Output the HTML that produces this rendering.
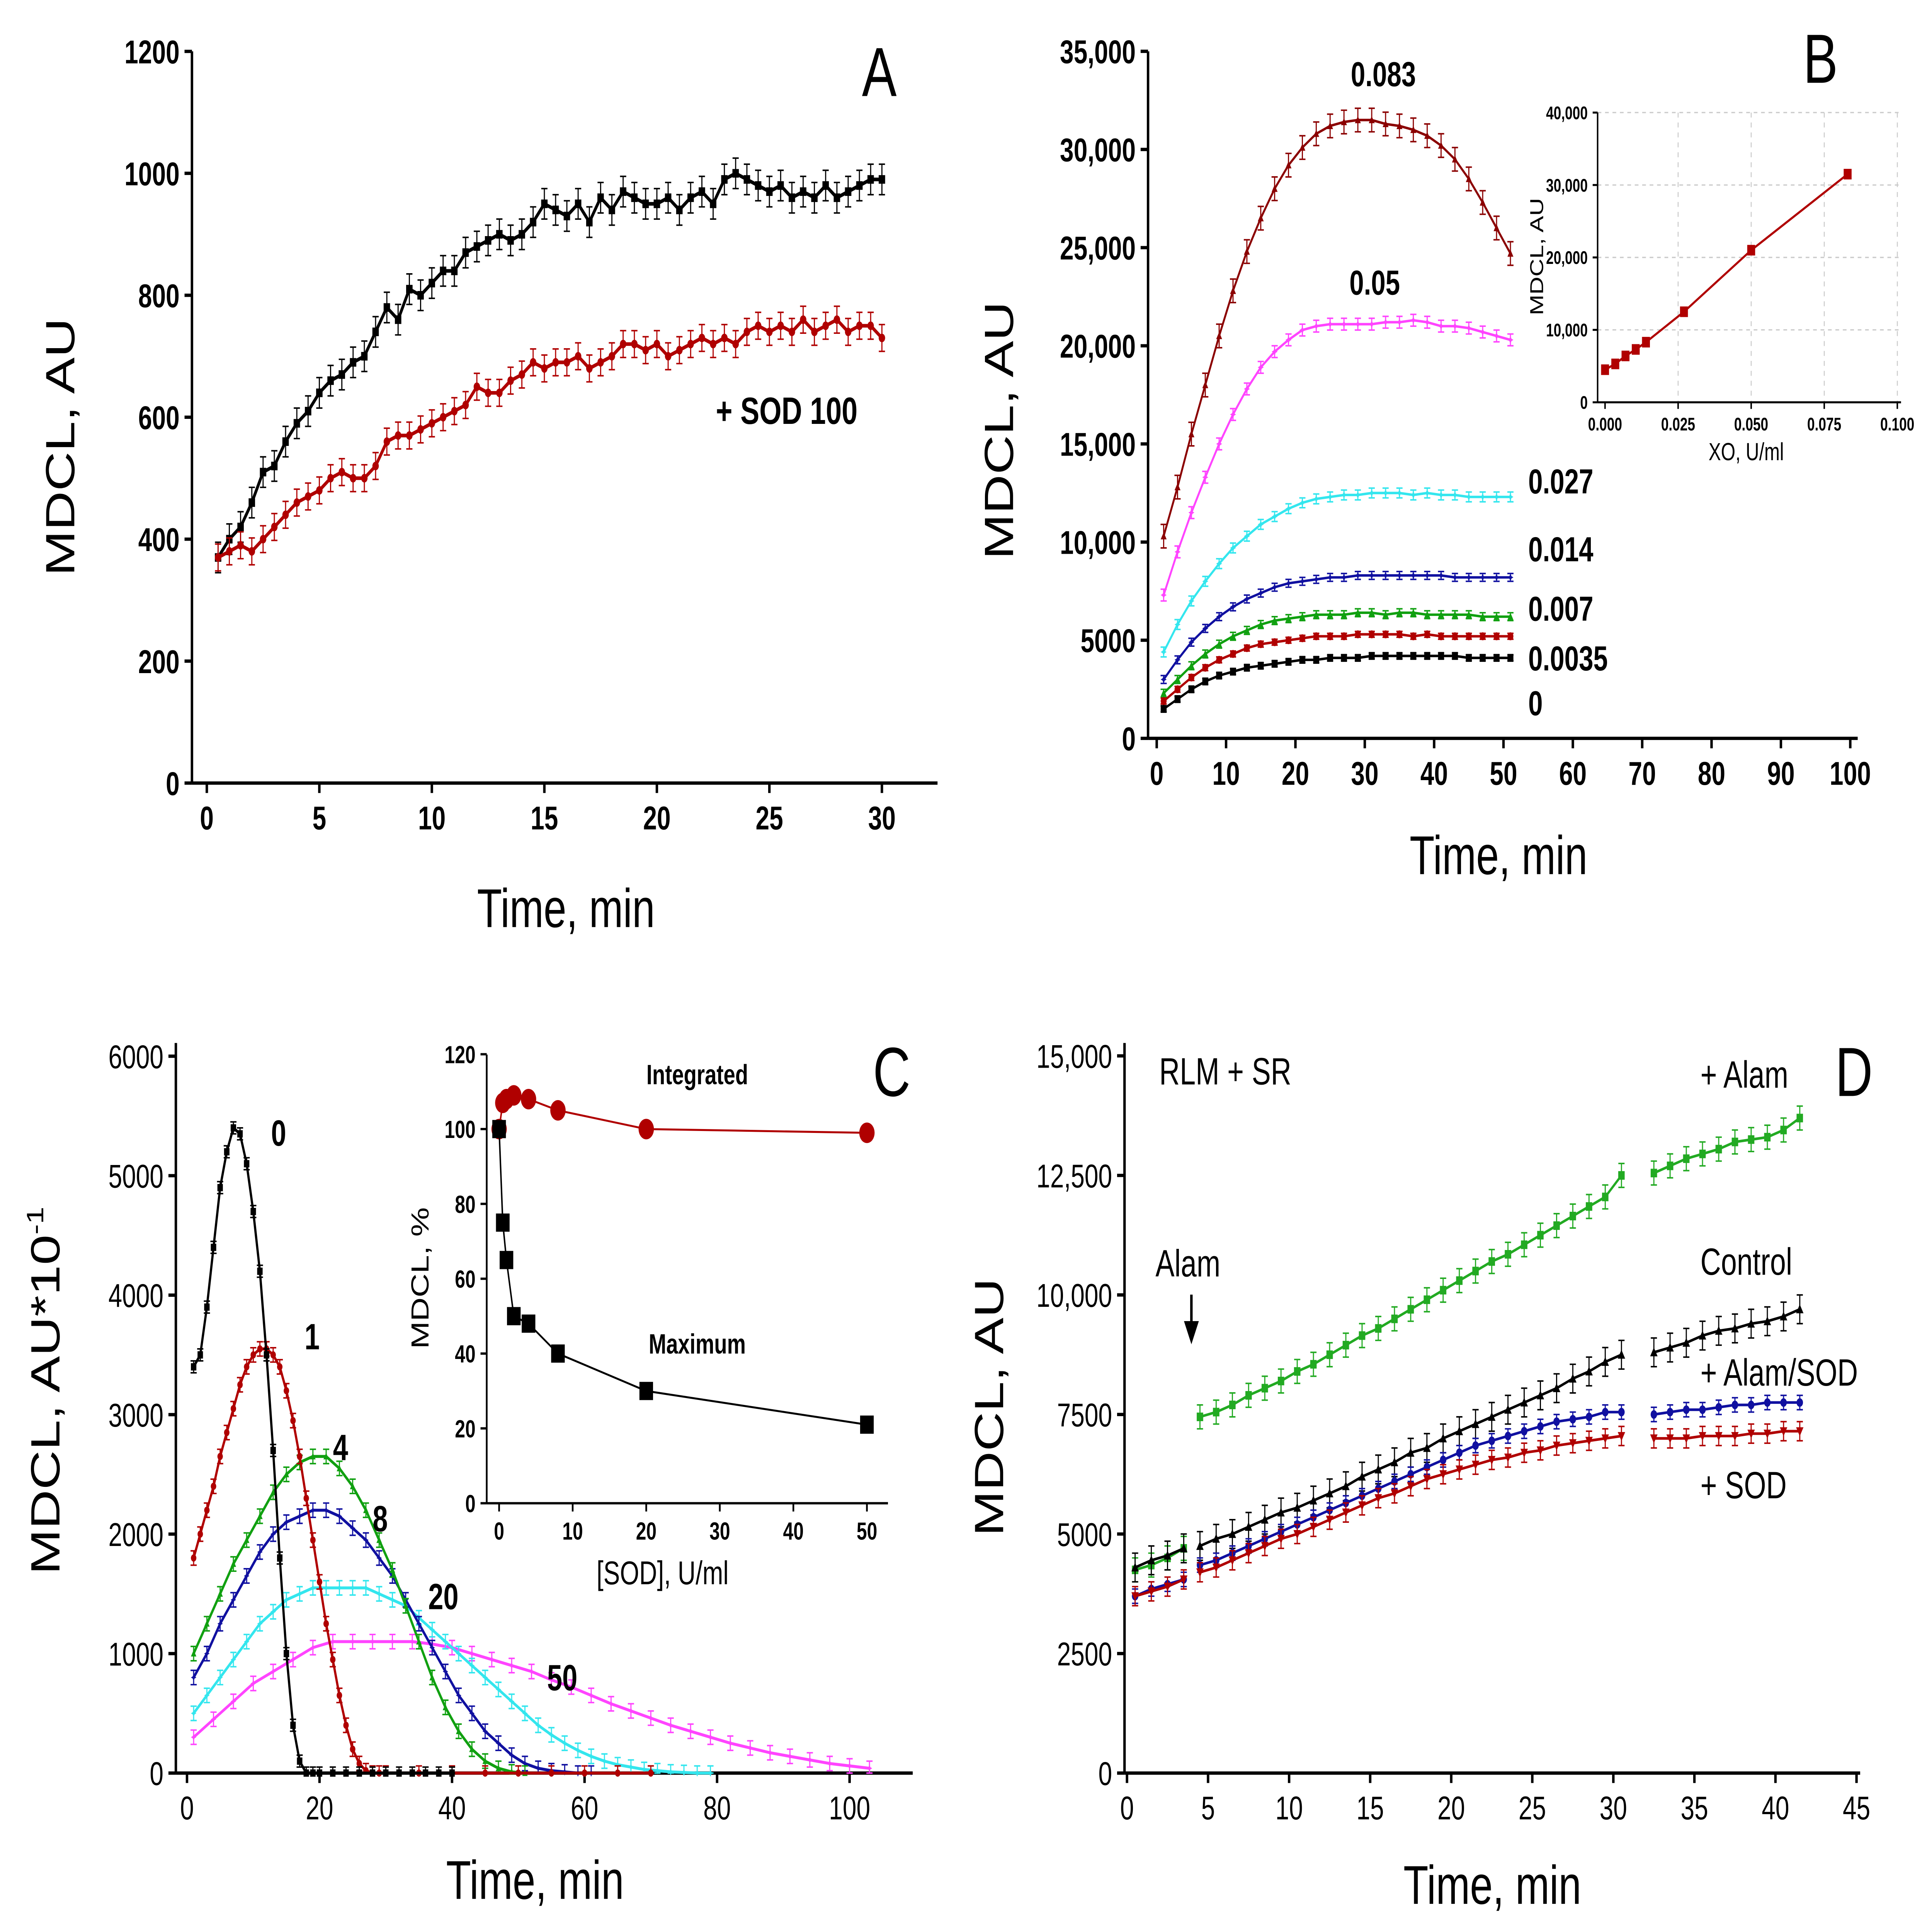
<!DOCTYPE html>
<html><head><meta charset="utf-8"><title>MDCL kinetics</title>
<style>
html,body{margin:0;padding:0;background:#fff;overflow:hidden;width:100vw;height:100vh;}
svg{display:block;width:100vw;height:100vh;}
text{font-family:"Liberation Sans",Arial,sans-serif;}
</style></head>
<body>
<svg id="fig" xmlns="http://www.w3.org/2000/svg" viewBox="0 0 1560 1167" preserveAspectRatio="none">
<rect x="0" y="0" width="1560" height="1167" fill="#fff"/>
</svg>
<script>
// ---------- Panel A data ----------
const tA = [0.5,1,1.5,2,2.5,3,3.5,4,4.5,5,5.5,6,6.5,7,7.5,8,8.5,9,9.5,10,10.5,11,11.5,12,12.5,13,13.5,14,14.5,15,15.5,16,16.5,17,17.5,18,18.5,19,19.5,20,20.5,21,21.5,22,22.5,23,23.5,24,24.5,25,25.5,26,26.5,27,27.5,28,28.5,29,29.5,30];
const aControl = [370,400,420,460,510,520,560,590,610,640,660,670,690,700,740,780,760,810,800,820,840,840,870,880,890,900,890,900,920,950,940,930,950,920,960,940,970,960,950,950,960,940,960,970,950,990,1000,990,980,970,980,960,970,960,980,960,970,980,990,990];
const aSOD = [370,380,390,380,400,420,440,460,470,480,500,510,500,500,520,560,570,570,580,590,600,610,620,650,640,640,660,670,690,680,690,690,700,680,690,700,720,720,710,720,700,710,720,730,720,730,720,740,750,740,750,740,760,740,750,760,740,750,750,730];
const errA = [25,22];
const ticksAx = [0,5,10,15,20,25,30];
const ticksAy = [0,200,400,600,800,1000,1200];

// ---------- Panel B data ----------
const tB = [1,3,5,7,9,11,13,15,17,19,21,23,25,27,29,31,33,35,37,39,41,43,45,47,49,51];
const b083 = [10300,12800,15500,18000,20500,22800,24800,26500,28000,29200,30100,30800,31200,31400,31500,31500,31300,31200,31000,30700,30200,29500,28500,27300,26000,24700];
const b05 = [7300,9500,11500,13300,15000,16500,17800,18900,19700,20300,20800,21000,21100,21100,21100,21100,21200,21200,21300,21200,21000,21000,20900,20700,20500,20300];
const b027 = [4400,5800,7000,8000,8900,9700,10300,10900,11300,11700,12000,12200,12300,12400,12400,12500,12500,12500,12400,12500,12400,12400,12300,12300,12300,12300];
const b014 = [3000,4000,4900,5600,6200,6700,7100,7400,7700,7900,8000,8100,8200,8200,8300,8300,8300,8300,8300,8300,8300,8200,8200,8200,8200,8200];
const b007 = [2300,3000,3700,4300,4800,5200,5500,5800,6000,6100,6200,6300,6300,6300,6400,6400,6300,6400,6400,6300,6300,6300,6300,6200,6200,6200];
const b0035 = [1900,2500,3100,3600,4000,4300,4600,4800,4900,5000,5100,5200,5200,5200,5300,5300,5300,5300,5200,5300,5200,5200,5200,5200,5200,5200];
const b0 = [1500,2000,2500,2900,3200,3400,3600,3700,3800,3900,4000,4000,4100,4100,4100,4200,4200,4200,4200,4200,4200,4200,4100,4100,4100,4100];
const errB = [600,300,250,200,200,150,150];
const ticksBx = [0,10,20,30,40,50,60,70,80,90,100];
const ticksBy = [0,5000,10000,15000,20000,25000,30000,35000];
const ticksByLbl = ["0","5000","10,000","15,000","20,000","25,000","30,000","35,000"];
const xoDose = [0,0.0035,0.007,0.0105,0.014,0.027,0.05,0.083];
const xoMax = [4500,5300,6400,7300,8300,12500,21000,31500];
const ticksBix = [0,0.025,0.05,0.075,0.1];
const ticksBixLbl = ["0.000","0.025","0.050","0.075","0.100"];
const ticksBiy = [0,10000,20000,30000,40000];
const ticksBiyLbl = ["0","10,000","20,000","30,000","40,000"];

// ---------- Panel C data ----------
const tC0 = [1,2,3,4,5,6,7,8,9,10,11,12,13,14,15,16,17,18,19,20,22,24,26,28,30,32,34,36,38,40];
const c0 = [3400,3500,3900,4400,4900,5200,5400,5350,5100,4700,4200,3500,2700,1800,1000,400,100,0,0,0,0,0,0,0,0,0,0,0,0,0];
const tC1 = [1,2,3,4,5,6,7,8,9,10,11,12,13,14,15,16,17,18,19,20,21,22,23,24,25,26,27,28,29,30,35,40,45,50,55,60,65,70];
const c1 = [1800,2000,2200,2400,2650,2850,3050,3250,3400,3500,3550,3550,3500,3400,3200,2950,2650,2300,1950,1600,1250,950,650,400,200,80,20,0,0,0,0,0,0,0,0,0,0,0];
const tC4 = [1,3,5,7,9,11,13,15,17,19,21,23,25,27,29,31,33,35,37,39,41,43,45,47,49,51];
const c4 = [1000,1250,1500,1750,1950,2150,2350,2500,2600,2650,2650,2550,2400,2200,1950,1700,1400,1100,800,550,350,200,100,40,10,0];
const tC8 = [1,3,5,7,9,11,13,15,17,19,21,23,25,27,29,31,33,35,37,39,41,43,45,47,49,51,53,55,57,59,61];
const c8 = [800,1000,1250,1450,1650,1850,2000,2100,2150,2200,2200,2150,2050,1950,1800,1650,1450,1250,1050,850,650,500,350,250,150,80,40,20,10,0,0];
const tC20 = [1,3,5,7,9,11,13,15,17,19,21,23,25,27,29,31,33,35,37,39,41,43,45,47,49,51,53,55,57,59,61,63,65,67,69,71,73,75,77,79];
const c20 = [500,650,800,950,1100,1250,1350,1450,1500,1550,1550,1550,1550,1550,1500,1450,1400,1300,1200,1100,1000,900,800,700,600,500,400,320,250,190,140,100,70,50,30,20,10,5,0,0];
const tC50 = [1,4,7,10,13,16,19,22,25,28,31,34,37,40,43,46,49,52,55,58,61,64,67,70,73,76,79,82,85,88,91,94,97,100,103];
const c50 = [300,450,600,750,850,950,1050,1100,1100,1100,1100,1100,1080,1050,1000,950,900,850,780,720,650,580,520,460,400,350,300,250,210,170,140,110,80,60,40];
const errC = [60,60,60,60,60,50];
const ticksCx = [0,20,40,60,80,100];
const ticksCy = [0,1000,2000,3000,4000,5000,6000];
const sodDose = [0,0.5,1,2,4,8,20,50];
const sodIntegrated = [100,107,108,109,108,105,100,99];
const sodMaximum = [100,75,65,50,48,40,30,21];
const ticksCix = [0,10,20,30,40,50];
const ticksCiy = [0,20,40,60,80,100,120];

// ---------- Panel D data ----------
const tD = [0.5,1.5,2.5,3.5,null,4.5,5.5,6.5,7.5,8.5,9.5,10.5,11.5,12.5,13.5,14.5,15.5,16.5,17.5,18.5,19.5,20.5,21.5,22.5,23.5,24.5,25.5,26.5,27.5,28.5,29.5,30.5,null,32.5,33.5,34.5,35.5,36.5,37.5,38.5,39.5,40.5,41.5];
const dAlam = [4250,4350,4500,4700,null,7450,7550,7700,7900,8050,8200,8400,8550,8750,8950,9150,9300,9500,9700,9900,10100,10300,10500,10700,10850,11050,11250,11450,11650,11850,12050,12500,null,12550,12700,12850,12950,13050,13200,13250,13300,13450,13700];
const dControl = [4300,4450,4550,4700,null,4750,4900,5000,5150,5300,5450,5550,5700,5850,6000,6200,6350,6500,6700,6800,7000,7150,7300,7450,7600,7750,7900,8050,8250,8400,8600,8750,null,8800,8900,9000,9150,9250,9300,9400,9450,9550,9700];
const dAlamSOD = [3700,3850,3950,4050,null,4350,4450,4600,4750,4900,5050,5200,5350,5500,5650,5800,5950,6100,6250,6400,6550,6700,6850,6950,7050,7150,7250,7350,7400,7450,7550,7550,null,7500,7550,7600,7600,7650,7700,7700,7750,7750,7750];
const dSOD = [3700,3800,3900,4050,null,4200,4300,4450,4600,4750,4900,5000,5150,5300,5450,5600,5750,5850,6000,6150,6250,6350,6450,6550,6600,6700,6750,6850,6900,6950,7000,7050,null,7000,7000,7000,7050,7050,7050,7100,7100,7150,7150];
const errD = [250,300,150,200];
const ticksDx = [0,5,10,15,20,25,30,35,40,45];
const ticksDy = [0,2500,5000,7500,10000,12500,15000];
const ticksDyLbl = ["0","2500","5000","7500","10,000","12,500","15,000"];

// ---------- helpers ----------
const NS = "http://www.w3.org/2000/svg";
const svg = document.getElementById("fig");
function el(tag, attrs, parent){
  const e = document.createElementNS(NS, tag);
  for (const k in attrs) e.setAttribute(k, attrs[k]);
  (parent||svg).appendChild(e);
  return e;
}
function txt(parent, x, y, s, size, opts){
  opts = opts||{};
  const t = el("text",{x:x,y:y,"font-size":size,"text-anchor":opts.anchor||"middle","font-weight":opts.bold?"bold":"normal",fill:opts.fill||"#000"},parent);
  if (opts.rot) t.setAttribute("transform","rotate(-90 "+x+" "+y+")");
  t.textContent = s;
  return t;
}
function axes(g, cfg){
  el("line",{x1:cfg.left,y1:cfg.top,x2:cfg.left,y2:cfg.bottom,stroke:"#000","stroke-width":cfg.lw||2},g);
  el("line",{x1:cfg.left,y1:cfg.bottom,x2:cfg.right,y2:cfg.bottom,stroke:"#000","stroke-width":cfg.lw||2},g);
  const tl = cfg.tl||6;
  cfg.xt.forEach((v,i)=>{
    const x = cfg.X(v);
    el("line",{x1:x,y1:cfg.bottom,x2:x,y2:cfg.bottom+tl,stroke:"#000","stroke-width":cfg.lw||2},g);
    const t = txt(g, x, cfg.bottom+tl+cfg.fs+2, cfg.xl?cfg.xl[i]:String(v), cfg.fs, {bold:cfg.bold});
    
    
  });
  cfg.yt.forEach((v,i)=>{
    const y = cfg.Y(v);
    el("line",{x1:cfg.left-tl,y1:y,x2:cfg.left,y2:y,stroke:"#000","stroke-width":cfg.lw||2},g);
    const t = txt(g, cfg.left-tl-4, y+cfg.fs*0.36, cfg.yl?cfg.yl[i]:String(v), cfg.fs, {bold:cfg.bold,anchor:"end"});
    
    
  });
}
function marker(g, x, y, type, color, s){
  if (type==="sq") return el("rect",{x:x-s,y:y-s,width:2*s,height:2*s,fill:color},g);
  if (type==="ci") return el("circle",{cx:x,cy:y,r:s,fill:color},g);
  if (type==="tu") return el("polygon",{points:(x)+","+(y-s)+" "+(x-s)+","+(y+s*0.8)+" "+(x+s)+","+(y+s*0.8),fill:color},g);
  if (type==="td") return el("polygon",{points:(x)+","+(y+s)+" "+(x-s)+","+(y-s*0.8)+" "+(x+s)+","+(y-s*0.8),fill:color},g);
  if (type==="st") return el("polygon",{points:(x)+","+(y-s)+" "+(x+s*0.35)+","+(y-s*0.3)+" "+(x+s)+","+(y)+" "+(x+s*0.35)+","+(y+s*0.3)+" "+(x)+","+(y+s)+" "+(x-s*0.35)+","+(y+s*0.3)+" "+(x-s)+","+(y)+" "+(x-s*0.35)+","+(y-s*0.3),fill:color},g);
}
function series(g, name, xs, ys, X, Y, color, mk, ms, err, lw){
  const sg = el("g",{},g);
  
  
  let d = "", pen = false;
  for (let i=0;i<xs.length;i++){
    if (xs[i]===null || ys[i]===null){ pen=false; continue; }
    d += (pen?"L":"M")+X(xs[i]).toFixed(2)+" "+Y(ys[i]).toFixed(2)+" ";
    pen = true;
  }
  const p = el("path",{d:d,fill:"none",stroke:color,"stroke-width":lw||1.6},sg);
  
  
  for (let i=0;i<xs.length;i++){
    if (xs[i]===null || ys[i]===null) continue;
    const x = X(xs[i]), y = Y(ys[i]);
    if (err){
      const y1 = Y(ys[i]+err), y2 = Y(Math.max(0,ys[i]-err));
      el("line",{x1:x,y1:y1,x2:x,y2:y2,stroke:color,"stroke-width":0.9},sg);
      el("line",{x1:x-2.5,y1:y1,x2:x+2.5,y2:y1,stroke:color,"stroke-width":0.9},sg);
      el("line",{x1:x-2.5,y1:y2,x2:x+2.5,y2:y2,stroke:color,"stroke-width":0.9},sg);
    }
    const m = marker(sg, x, y, mk, color, ms);
    
    
  }
  return sg;
}

// ---------- Panel A ----------
(function(){
  const g = el("g",{});
  
  
  const X = v=>167+v*18.17, Y = v=>473-v*0.3683;
  axes(g,{X:X,Y:Y,left:155,bottom:473,top:31,right:757,xt:ticksAx,yt:ticksAy,fs:20,bold:true});
  series(g,'series-control',tA,aControl,X,Y,"#000","sq",2.6,errA[0],2.2);
  series(g,'series-sod-100',tA,aSOD,X,Y,"#b00000","ci",2.6,errA[1],2.2);
  let t = txt(g,60,270,"MDCL, AU",33,{rot:true});  
  t = txt(g,457,560,"Time, min",33);  
  t = txt(g,710,58,"A",42);  
  t = txt(g,578,256,"+ SOD 100",23,{bold:true,anchor:"start"});  
})();

// ---------- Panel B ----------
(function(){
  const g = el("g",{});
  
  
  const X = v=>934+v*5.6, Y = v=>446-v*0.011857;
  axes(g,{X:X,Y:Y,left:927,bottom:446,top:31,right:1500,xt:ticksBx,yt:ticksBy,yl:ticksByLbl,fs:20,bold:true});
  const B = [[b083,"#8b0000","tu"],[b05,"#ff44ff","st"],[b027,"#33e6ee","st"],[b014,"#1010a0","st"],[b007,"#10a010","tu"],[b0035,"#b00000","ci"],[b0,"#000","sq"]];
  const names = ['series-xo-0.083','series-xo-0.05','series-xo-0.027','series-xo-0.014','series-xo-0.007','series-xo-0.0035','series-xo-0'];
  B.forEach((s,i)=>series(g,names[i],tB,s[0],X,Y,s[1],s[2],2.4,errB[i],1.5));
  const lbls = [["0.083",1117,52],["0.05",1110,178],["0.027",1234,298],["0.014",1234,339],["0.007",1234,375],["0.0035",1234,405],["0",1234,432]];
  lbls.forEach(l=>{ const t = txt(g,l[1],l[2],l[0],21,{bold:true,anchor:l[1]>1200?"start":"middle"});   });
  let t = txt(g,818,260,"MDCL, AU",33,{rot:true});  
  t = txt(g,1210,528,"Time, min",33);  
  t = txt(g,1470,50,"B",42);  
  const ig = el("g",{},g);
  
  
  const IX = v=>1296+v*2360, IY = v=>243-v*0.004375;
  ticksBix.slice(1).forEach(v=>el("line",{x1:IX(v),y1:68,x2:IX(v),y2:243,stroke:"#ccc","stroke-width":0.8,"stroke-dasharray":"3 3"},ig));
  ticksBiy.slice(1).forEach(v=>el("line",{x1:1290,y1:IY(v),x2:1535,y2:IY(v),stroke:"#ccc","stroke-width":0.8,"stroke-dasharray":"3 3"},ig));
  axes(ig,{X:IX,Y:IY,left:1290,bottom:243,top:68,right:1535,xt:ticksBix,xl:ticksBixLbl,yt:ticksBiy,yl:ticksBiyLbl,fs:11,bold:true,tl:4,lw:1.2});
  series(ig,'series-xo-max',xoDose,xoMax,IX,IY,"#b00000","sq",3.2,0,1.4);
  t = txt(ig,1410,278,"XO, U/ml",15);  
  t = txt(ig,1246,155,"MDCL, AU",15,{rot:true});  
})();

// ---------- Panel C ----------
(function(){
  const g = el("g",{});
  
  
  const X = v=>151+v*5.35, Y = v=>1071-v*0.07217;
  axes(g,{X:X,Y:Y,left:142,bottom:1071,top:630,right:737,xt:ticksCx,yt:ticksCy,fs:20,bold:false});
  const S = [[tC50,c50,"#ff44ff","st","series-sod-50"],[tC20,c20,"#33e6ee","st","series-sod-20"],[tC8,c8,"#1010a0","st","series-sod-8"],[tC4,c4,"#10a010","tu","series-sod-4"],[tC1,c1,"#b00000","ci","series-sod-1"],[tC0,c0,"#000","sq","series-sod-0"]];
  S.forEach((s,i)=>series(g,s[4],s[0],s[1],X,Y,s[2],s[3],2.2,errC[i],1.8));
  const lbls = [["0",225,692],["1",252,815],["4",275,882],["8",307,925],["20",358,972],["50",454,1021]];
  lbls.forEach(l=>{ const t = txt(g,l[1],l[2],l[0],22,{bold:true});   });
  let t = el("text",{x:48,y:840,"font-size":33,"text-anchor":"middle",transform:"rotate(-90 48 840)"},g);
  t.innerHTML = 'MDCL, AU*10<tspan font-size="19" dy="-13">-1</tspan>';
   
  t = txt(g,432,1147,"Time, min",33);  
  t = txt(g,720,662,"C",42);  
  const ig = el("g",{},g);
  
  
  const IX = v=>403+v*5.94, IY = v=>908-v*2.26;
  axes(ig,{X:IX,Y:IY,left:393,bottom:908,top:637,right:717,xt:ticksCix,yt:ticksCiy,fs:15,bold:true,tl:5,lw:1.4});
  series(ig,'series-integrated',sodDose,sodIntegrated,IX,IY,"#b00000","ci",6.2,0,1.2);
  series(ig,'series-maximum',sodDose,sodMaximum,IX,IY,"#000","sq",5.5,0,1.2);
  t = txt(ig,563,IY(112),"Integrated",17,{bold:true});  
  t = txt(ig,563,IY(40),"Maximum",17,{bold:true});  
  t = txt(ig,346,772,"MDCL, %",20,{rot:true});  
  t = txt(ig,535,957,"[SOD], U/ml",20);  
})();

// ---------- Panel D ----------
(function(){
  const g = el("g",{});
  
  
  const X = v=>910+v*13.09, Y = v=>1071-v*0.02888;
  axes(g,{X:X,Y:Y,left:908,bottom:1071,top:630,right:1502,xt:ticksDx,yt:ticksDy,yl:ticksDyLbl,fs:20,bold:false});
  series(g,'series-alam',tD,dAlam,X,Y,"#22aa22","sq",2.6,errD[0],1.6);
  series(g,'series-control',tD,dControl,X,Y,"#000","tu",3,errD[1],1.6);
  series(g,'series-alam-sod',tD,dAlamSOD,X,Y,"#1010a0","ci",2.6,errD[2],1.6);
  series(g,'series-sod',tD,dSOD,X,Y,"#b00000","td",3,errD[3],1.6);
  const lbls = [["RLM + SR",936,655],["+ Alam",1373,657],["Alam",933,771],["Control",1373,770],["+ Alam/SOD",1373,837],["+ SOD",1373,905]];
  lbls.forEach(l=>{ const t = txt(g,l[1],l[2],l[0],23,{anchor:"start"});   });
  const ar = el("g",{},g);
  
  
  el("line",{x1:962,y1:782,x2:962,y2:806,stroke:"#000","stroke-width":2},ar);
  el("polygon",{points:"956,798 968,798 962,812",fill:"#000"},ar);
  let t = txt(g,810,850,"MDCL, AU",33,{rot:true});  
  t = txt(g,1205,1150,"Time, min",33);  
  t = txt(g,1497,662,"D",42);  
})();
</script>
</body></html>
